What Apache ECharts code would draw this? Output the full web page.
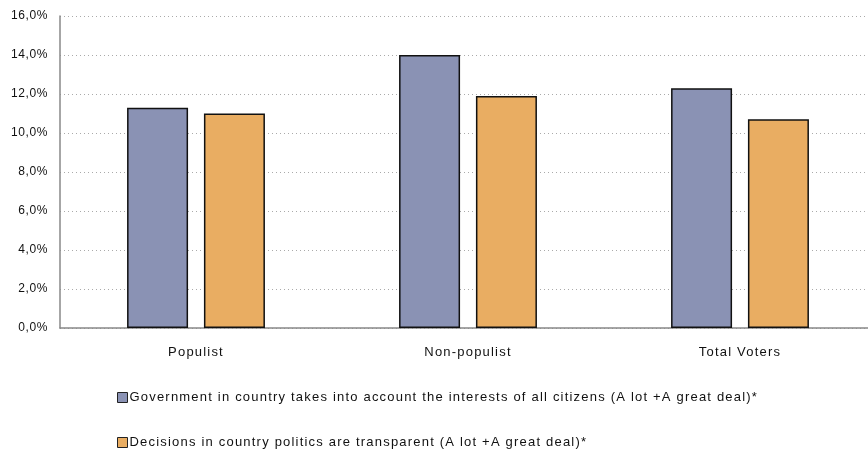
<!DOCTYPE html>
<html><head><meta charset="utf-8">
<script src="https://cdn.jsdelivr.net/npm/echarts@6/dist/echarts.min.js"></script>
<style>html,body{margin:0;padding:0;background:#fff;overflow:hidden}#c{width:868px;height:455px}</style>
</head><body><div id="c"></div>
<script>
const categories = ['Populist', 'Non-populist', 'Total Voters'];
const seriesNames = [
  'Government in country takes into account the interests of all citizens (A lot +A great deal)*',
  'Decisions in country politics are transparent (A lot +A great deal)*'
];
const governmentValues = [11.3, 14.0, 12.3];
const decisionsValues = [11.0, 11.9, 10.7];
const yTicks = [0, 2, 4, 6, 8, 10, 12, 14, 16];

// the reference text is drawn with loose letter spacing
(function () {
  const P = CanvasRenderingContext2D.prototype;
  const orig = P.fillText;
  P.fillText = function (t, x, y, w) {
    if ('letterSpacing' in this) {
      this.letterSpacing = /13px/.test(this.font) ? '1.2px' : (/12px/.test(this.font) ? '0.6px' : '0px');
    }
    const r = w === undefined ? orig.call(this, t, x, y) : orig.call(this, t, x, y, w);
    if ('letterSpacing' in this) this.letterSpacing = '0px';
    return r;
  };
})();

const colors = ['#8a92b4', '#e9ad62'];
const font = 'Liberation Sans, Arial, sans-serif';
const chart = echarts.init(document.getElementById('c'));
chart.setOption({
  animation: false,
  grid: {left: 60, width: 816, top: 16, bottom: 127, outerBoundsMode: 'none', containLabel: false},
  xAxis: {
    type: 'category', data: categories,
    axisLine: {lineStyle: {color: '#888', width: 1.5}},
    axisTick: {show: false},
    axisLabel: {color: '#111', fontFamily: font, fontSize: 13, margin: 18}
  },
  yAxis: {
    type: 'value', min: yTicks[0], max: yTicks[yTicks.length - 1], interval: 2,
    axisLine: {show: true, lineStyle: {color: '#888', width: 1.5}},
    axisTick: {show: false},
    splitLine: {lineStyle: {color: '#aaa', type: [1, 3], width: 1}},
    axisLabel: {color: '#111', fontFamily: font, fontSize: 12, margin: 12,
      formatter: v => v.toFixed(1).replace('.', ',') + '%'}
  },
  legend: {
    orient: 'vertical', left: 112, top: 386, itemGap: 32,
    itemWidth: 10, itemHeight: 10, icon: 'rect',
    textStyle: {color: '#111', fontFamily: font, fontSize: 13, padding: [0, 0, 0, -3]},
    data: seriesNames.map((n, i) => ({name: n, itemStyle: {color: colors[i], borderColor: '#222', borderWidth: 1}}))
  },
  series: [
    {name: seriesNames[0], type: 'bar', data: governmentValues, barWidth: 61, barGap: '26%',
     itemStyle: {color: colors[0], borderColor: '#111', borderWidth: 1.5}},
    {name: seriesNames[1], type: 'bar', data: decisionsValues, barWidth: 61, barGap: '26%',
     itemStyle: {color: colors[1], borderColor: '#111', borderWidth: 1.5}}
  ]
});
</script></body></html>
